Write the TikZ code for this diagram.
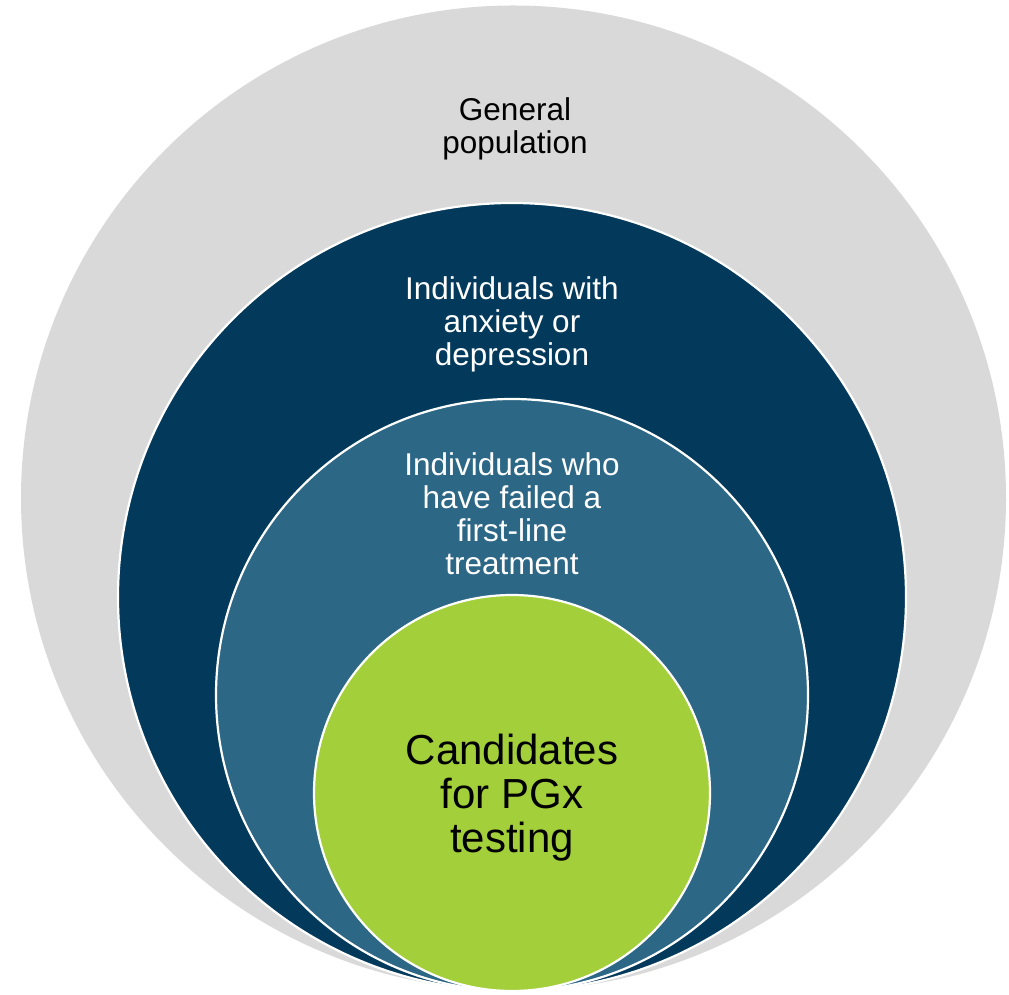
\documentclass[tikz,border=0pt]{standalone}
\usepackage{fontspec}
\setmainfont{Liberation Sans}
\definecolor{popgray}{HTML}{D9D9D9}
\definecolor{navy}{HTML}{033A5C}
\definecolor{midblue}{HTML}{2C6786}
\definecolor{lime}{HTML}{A3CF3A}
\begin{document}
\begin{tikzpicture}[x=1pt,y=1pt,
  ring/.style={circle, inner sep=0pt, draw=white, line width=2.2pt},
  lbl/.style={align=center, inner sep=0pt, font=\fontsize{31.5}{33}\selectfont},
  biglbl/.style={align=center, inner sep=0pt, font=\fontsize{42}{44}\selectfont}]
  \useasboundingbox (0,0) rectangle (1009,994);
  % nested circles, all touching at the bottom
  \node[ring, fill=popgray, draw=none, minimum size=985pt] (general) at (513.5,496) {};
  \node[ring, fill=navy, minimum size=788pt] (anxiety) at (512,397) {};
  \node[ring, fill=midblue, minimum size=592pt] (failed) at (512,299) {};
  \node[ring, fill=lime, minimum size=396pt] (pgx) at (512,201) {};
  % labels
  \node[lbl, text=black] (tgeneral) at (515,865) {General\\population};
  \node[lbl, text=white] (tanxiety) at (512,670) {Individuals with\\anxiety or\\depression};
  \node[lbl, text=white] (tfailed) at (512,480) {Individuals who\\have failed a\\first-line\\treatment};
  \node[biglbl, text=black] (tpgx) at (512,196) {Candidates\\for PGx\\testing};
\end{tikzpicture}
\end{document}
